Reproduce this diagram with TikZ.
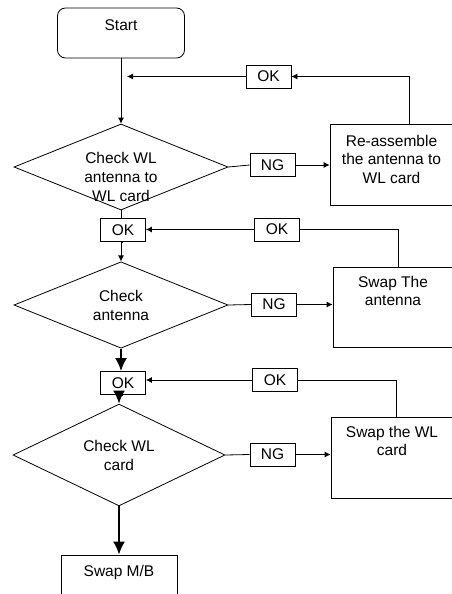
\documentclass[tikz,border=0pt]{standalone}
\usepackage{fontspec}
\setmainfont{Liberation Sans}
\usetikzlibrary{positioning, shapes.geometric, arrows.meta}

\begin{document}
\begin{tikzpicture}[x=1pt, y=-1pt, line width=0.8pt,
  font=\fontsize{15.5}{18.5}\selectfont,
  tag/.style={draw, minimum width=45pt, minimum height=23pt, inner sep=0pt},
  decision/.style={draw, diamond, minimum width=214pt, minimum height=86pt,
                   inner sep=0pt, align=center, font=\fontsize{15.5}{19}\selectfont},
  txt/.style={align=center, inner sep=1pt},
  flow/.style={-{Latex[length=6pt, width=6pt]}},
  bigflow/.style={line width=2pt, -{Latex[length=13pt, width=12pt]}}]

\useasboundingbox (0,0) rectangle (452,594);

\node[draw, rounded corners=8pt, minimum width=127pt, minimum height=50pt]
  (start) at (121,33) {};
\node[txt, below=11pt of start.north] (starttxt) {Start};

\node[decision] (chk1) at (121,167) {};
\node[txt, font=\fontsize{15.5}{19}\selectfont] (chk1txt)
  at ([yshift=-10pt]chk1.center) {Check WL\\antenna to\\WL card};

\node[draw, minimum width=123pt, minimum height=81pt] (reasm) at (391.5,164.5) {};
\node[txt, below=10pt of reasm.north] (reasmtxt) {Re-assemble\\the antenna to\\WL card};

\node[tag] (ok1) at (268.5,76.5) {OK};
\node[tag] (ng1) at (272.5,165) {NG};

\node[tag] (ok2) at (123,230) {OK};
\node[tag] (okr2) at (277,229.5) {OK};

\node[decision] (chk2) at (121,305) {Check\\antenna};
\node[tag] (ng2) at (274,304.5) {NG};

\node[draw, minimum width=120pt, minimum height=80pt] (swapant) at (393,307) {};
\node[txt, below=8pt of swapant.north] (swapanttxt) {Swap The\\antenna};

\node[tag] (ok3) at (123,383) {OK};
\node[tag] (okr3) at (275,380) {OK};

\node[decision, minimum width=212pt, minimum height=88pt] (chk3) at (119,455)
  {Check WL\\card};
\node[tag] (ng3) at (272.5,454.5) {NG};

\node[draw, minimum width=122pt, minimum height=81pt] (swapwl) at (392,457.5) {};
\node[txt, below=8pt of swapwl.north] (swapwltxt) {Swap the WL\\card};

\node[draw, minimum width=116pt, minimum height=41pt] (swapmb) at (119,575.5) {};
\node[txt, below=9pt of swapmb.north] (swapmbtxt) {Swap M/B};

\coordinate (j1) at (127,76.5);

% main line
\draw[flow] (start.south) -- (start.south |- chk1.north);
\draw (chk1.south) -- (chk1.south |- ok2.north);
\draw[flow] (ok2.south) -- (ok2.south -| chk2.north) -- (chk2.north);
\draw[bigflow] (chk2.south) -- (chk2.south |- ok3.north);
\draw[bigflow] (ok3.south) -- (ok3.south -| chk3.north) -- (chk3.north);
\draw[bigflow] (chk3.south) -- (chk3.south |- swapmb.north);

% NG branches
\draw (chk1.east) -- (ng1.west);
\draw[flow] (ng1.east) -- (ng1.east -| reasm.west);
\draw (chk2.east) -- (ng2.west);
\draw[flow] (ng2.east) -- (ng2.east -| swapant.west);
\draw (chk3.east) -- (ng3.west);
\draw[flow] (ng3.east) -- (ng3.east -| swapwl.west);

% OK returns
\draw[flow] ([xshift=17.5pt]reasm.north) |- (ok1.east);
\draw[flow] (ok1.west) -- (j1);
\draw ([xshift=5pt]swapant.north) |- (okr2.east);
\draw[flow] (okr2.west) -- (okr2.west -| ok2.east);
\draw ([xshift=4pt]swapwl.north) |- (okr3.east);
\draw[flow] (okr3.west) -- (okr3.west -| ok3.east);
\end{tikzpicture}
\end{document}
